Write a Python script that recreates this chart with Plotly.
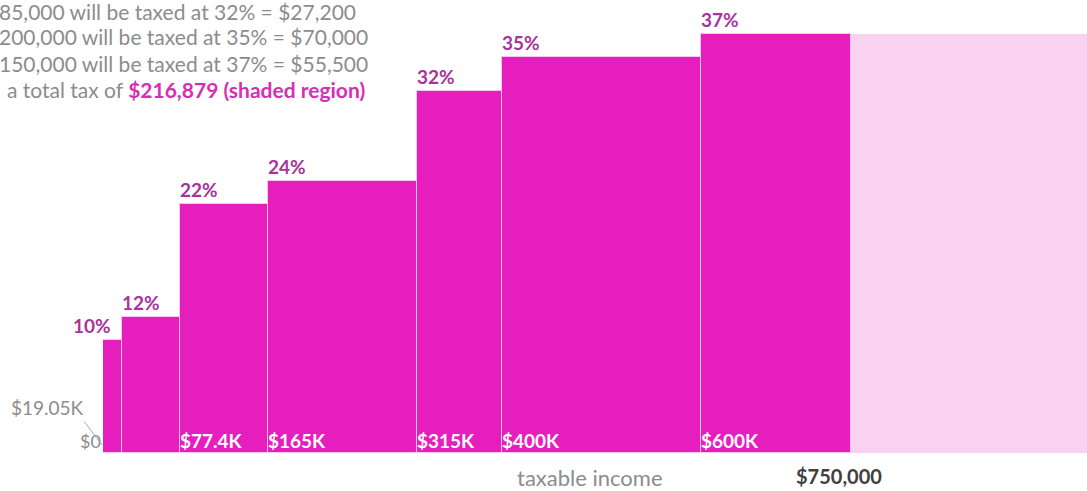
import plotly.graph_objects as go

# ---- data ----
bracket_edges = [0, 19050, 77400, 165000, 315000, 400000, 600000, 750000]
rates = [10, 12, 22, 24, 32, 35, 37]
rate_labels = ["10%", "12%", "22%", "24%", "32%", "35%", "37%"]
edge_labels = ["$0", "$19.05K", "$77.4K", "$165K", "$315K", "$400K", "$600K"]
income = 750000
income_label = "$750,000"
axis_max = 987000
text_lines = [
    "85,000 will be taxed at 32% = $27,200",
    "200,000 will be taxed at 35% = $70,000",
    "150,000 will be taxed at 37% = $55,500",
]
total_line = "a total tax of <b><span style='color:#D62FB4'>$216,879 (shaded region)</span></b>"

MAGENTA = "#E61EBE"
LIGHT = "#F9D1F1"
LABEL = "#A8349A"
GRAY = "#8C8C8C"
FONT = "Lato"

W, H = 1087, 491
L, R, T, B = 103, 0, 0, 38
PW, PH = W - L - R, H - T - B


def px(x):
    return (x - L) / PW


def py(y):
    return (H - B - y) / PH


lefts = bracket_edges[:-1]
widths = [b - a for a, b in zip(bracket_edges[:-1], bracket_edges[1:])]
mids = [a + w / 2 for a, w in zip(lefts, widths)]

fig = go.Figure()
fig.add_trace(go.Bar(
    x=[(income + axis_max) / 2], y=[rates[-1]], width=[axis_max - income],
    marker=dict(color=LIGHT, line=dict(width=0)), hoverinfo="skip", showlegend=False,
))
fig.add_trace(go.Bar(
    x=mids, y=rates, width=widths,
    marker=dict(color=MAGENTA, line=dict(color="#F7C8EE", width=1)),
    showlegend=False,
))

ann = []
# rate labels above bars
for i, (x0, r, lab) in enumerate(zip(lefts, rates, rate_labels)):
    common = dict(x=x0, y=r, text=f"<b>{lab}</b>", yanchor="bottom", yshift=1,
                  showarrow=False, font=dict(family=FONT, size=19, color=LABEL))
    if i == 0:
        ann.append(dict(common, xanchor="right", xshift=10))
    else:
        ann.append(dict(common, xanchor="left", xshift=-2))
# edge labels at bottom
for i, (x0, lab) in enumerate(zip(lefts, edge_labels)):
    if i == 0:
        ann.append(dict(x=x0, y=0, text=lab, xanchor="right", yanchor="bottom",
                        xshift=0, yshift=-1, showarrow=False,
                        font=dict(family=FONT, size=18, color=GRAY)))
    elif i == 1:
        ann.append(dict(x=0, y=0, text=lab, xanchor="center", yanchor="middle",
                        xshift=-56, yshift=46, showarrow=False,
                        font=dict(family=FONT, size=19, color=GRAY)))
        # leader line from the label towards the origin
        ann.append(dict(x=0, y=0, text="", showarrow=True, arrowhead=0, arrowwidth=1,
                        arrowcolor="#A8A8A8", ax=-19, ay=-25, xshift=-1, yshift=8))
    else:
        ann.append(dict(x=x0, y=0, text=f"<b>{lab}</b>", xanchor="left", yanchor="bottom",
                        xshift=-2, yshift=-1, showarrow=False,
                        font=dict(family=FONT, size=19, color="white")))

# top-left text
for k, line in enumerate(text_lines):
    ann.append(dict(xref="paper", yref="paper", x=px(-3), y=py(11 + 26 * k), text=line,
                    xanchor="left", yanchor="middle", showarrow=False,
                    font=dict(family=FONT, size=21, color=GRAY)))
ann.append(dict(xref="paper", yref="paper", x=px(5), y=py(89), text=total_line,
                xanchor="left", yanchor="middle", showarrow=False,
                font=dict(family=FONT, size=21, color=GRAY)))

# axis texts
ann.append(dict(xref="paper", yref="paper", x=px(590), y=py(477), text="taxable income",
                xanchor="center", yanchor="middle", showarrow=False,
                font=dict(family=FONT, size=22, color=GRAY)))
ann.append(dict(x=income, xref="x", yref="paper", y=py(476), text=f"<b>{income_label}</b>",
                xanchor="center", yanchor="middle", xshift=-12, showarrow=False,
                font=dict(family=FONT, size=20, color="#404040")))

fig.update_layout(
    width=W, height=H,
    margin=dict(l=L, r=R, t=T, b=B),
    paper_bgcolor="white", plot_bgcolor="white",
    bargap=0, barmode="overlay",
    xaxis=dict(range=[0, axis_max], visible=False, fixedrange=True),
    yaxis=dict(range=[0, 40], visible=False, fixedrange=True),
    annotations=ann,
    font=dict(family=FONT),
)
fig.write_html("out.html", config={"displayModeBar": False},
               post_script="document.body.style.margin='0';document.body.style.overflow='hidden';")
